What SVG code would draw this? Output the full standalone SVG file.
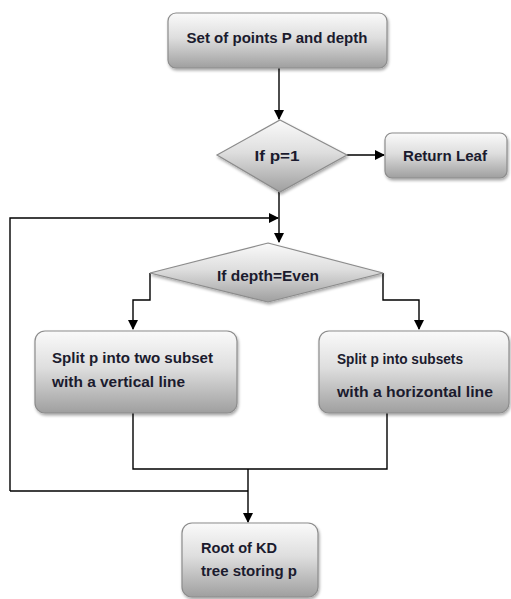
<svg xmlns="http://www.w3.org/2000/svg" width="511" height="599" viewBox="0 0 511 599">
<defs>
<linearGradient id="g" x1="0" y1="0" x2="0" y2="1">
<stop offset="0" stop-color="#fafafa"/>
<stop offset="0.45" stop-color="#dedede"/>
<stop offset="1" stop-color="#9f9f9f"/>
</linearGradient>
<filter id="sh" x="-10%" y="-10%" width="125%" height="130%">
<feGaussianBlur in="SourceAlpha" stdDeviation="1.5"/>
<feOffset dx="1" dy="2" result="b"/>
<feComponentTransfer><feFuncA type="linear" slope="0.35"/></feComponentTransfer>
<feMerge><feMergeNode/><feMergeNode in="SourceGraphic"/></feMerge>
</filter>
<marker id="ah" markerWidth="10" markerHeight="10" refX="9" refY="5" orient="auto" markerUnits="userSpaceOnUse">
<path d="M0,0 L10,5 L0,10 Z" fill="#000"/>
</marker>
</defs>
<style>
.n{fill:url(#g);stroke:#8c8c8c;stroke-width:1.2;filter:url(#sh)}
.t{font-family:"Liberation Sans",Arial,sans-serif;font-weight:bold;font-size:14.5px;fill:#1b1b2e}
.c{fill:none;stroke:#000;stroke-width:1.4}
</style>
<rect width="511" height="599" fill="#fff"/>
<g id="connectors">
<path class="c" d="M279,68 V119" marker-end="url(#ah)"/>
<path class="c" d="M347,155 H384" marker-end="url(#ah)"/>
<path class="c" d="M279,192 V242" marker-end="url(#ah)"/>
<path class="c" d="M10,491 V218 H278" marker-end="url(#ah)"/>
<path class="c" d="M150,273 V300 H133 V329" marker-end="url(#ah)"/>
<path class="c" d="M383,273 V300 H419 V329" marker-end="url(#ah)"/>
<path class="c" d="M133,413 V469 H387 V413"/>
<path class="c" d="M10,491 H248"/>
<path class="c" d="M248,469 V522" marker-end="url(#ah)"/>
</g>
<g id="start">
<rect class="n" x="168" y="13" width="219" height="55" rx="8"/>
<text class="t" x="277" y="43" text-anchor="middle" textLength="181" lengthAdjust="spacingAndGlyphs">Set of points P and depth</text>
</g>
<g id="cond1">
<polygon class="n" points="280,120 347,155 280,192 217,155"/>
<text class="t" x="277" y="161" text-anchor="middle" textLength="45" lengthAdjust="spacingAndGlyphs">If p=1</text>
</g>
<g id="leaf">
<rect class="n" x="385" y="133" width="122" height="45" rx="7"/>
<text class="t" x="445" y="161" text-anchor="middle" textLength="84" lengthAdjust="spacingAndGlyphs">Return Leaf</text>
</g>
<g id="cond2">
<polygon class="n" points="268,243 383,273 268,302 150,273"/>
<text class="t" x="268" y="281" text-anchor="middle" textLength="102" lengthAdjust="spacingAndGlyphs">If depth=Even</text>
</g>
<g id="splitV">
<rect class="n" x="35" y="331" width="202" height="82" rx="10"/>
<text class="t" x="52" y="363" textLength="161" lengthAdjust="spacingAndGlyphs">Split p into two subset</text>
<text class="t" x="52" y="387" textLength="133" lengthAdjust="spacingAndGlyphs">with a vertical line</text>
</g>
<g id="splitH">
<rect class="n" x="319" y="331" width="190" height="82" rx="10"/>
<text class="t" x="337" y="364" textLength="126" lengthAdjust="spacingAndGlyphs">Split p into subsets</text>
<text class="t" x="337" y="397" textLength="156" lengthAdjust="spacingAndGlyphs">with a horizontal line</text>
</g>
<g id="root">
<rect class="n" x="182" y="523" width="136" height="74" rx="10"/>
<text class="t" x="201" y="553" textLength="76" lengthAdjust="spacingAndGlyphs">Root of KD</text>
<text class="t" x="201" y="576" textLength="96" lengthAdjust="spacingAndGlyphs">tree storing p</text>
</g>
</svg>
